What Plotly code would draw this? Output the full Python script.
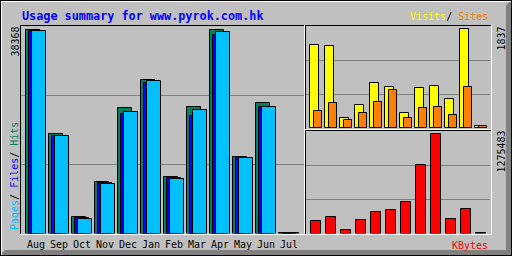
import plotly.graph_objects as go

# ---------------- data ----------------
months = ["Aug", "Sep", "Oct", "Nov", "Dec", "Jan", "Feb", "Mar", "Apr", "May", "Jun", "Jul"]
hits = [38200, 18662, 3016, 9745, 23563, 28841, 10556, 23751, 38368, 14383, 24505, 150]
files = [38134, 18285, 2828, 9425, 22432, 28275, 10368, 22055, 37323, 14138, 23751, 120]
pages = [38077, 18285, 2771, 9368, 22809, 28652, 10311, 23186, 37889, 14138, 23751, 100]
visits = [1543, 1524, 187, 437, 830, 755, 287, 737, 774, 549, 1837, 43]
sites = [324, 474, 156, 287, 493, 699, 193, 381, 399, 249, 755, 40]
kbytes = [159596, 211496, 42818, 172571, 276373, 302324, 406126, 873238, 1275483, 185547, 315300, 5000]

title = "Usage summary for www.pyrok.com.hk"
max_hits_label = "38368"
max_visits_label = "1837"
max_kbytes_label = "1275483"

# ---------------- style ----------------
W, H = 512, 256
GREY = "#C0C0C0"
DARK = "#808080"
C_HITS, C_FILES, C_PAGES = "#00805C", "#0000FF", "#00C0FF"
C_VISITS, C_SITES, C_KB = "#FFFF00", "#FF8000", "#FF0000"
FONT = "DejaVu Sans Mono"


def X(p):
    return p / W


def Y(p):
    return 1 - p / H


idx = list(range(len(months)))
outline = dict(color="black", width=1)

fig = go.Figure()
# main chart (slot 23px, first slot at 26px)
for vals, col, off, wd in [(hits, C_HITS, 0, 14), (files, C_FILES, 3, 14), (pages, C_PAGES, 6, 14)]:
    fig.add_trace(go.Bar(x=idx, y=vals, offset=off / 23, width=wd / 23,
                         marker=dict(color=col, line=outline), xaxis="x", yaxis="y",
                         hoverinfo="skip", showlegend=False))
# visits / sites (slot 15px, first slot at 310px)
for vals, col, off, wd in [(visits, C_VISITS, 0, 9), (sites, C_SITES, 4, 8)]:
    fig.add_trace(go.Bar(x=idx, y=vals, offset=off / 15, width=wd / 15,
                         marker=dict(color=col, line=outline), xaxis="x2", yaxis="y2",
                         hoverinfo="skip", showlegend=False))
fig.add_trace(go.Bar(x=idx, y=kbytes, offset=1 / 15, width=10 / 15,
                     marker=dict(color=C_KB, line=outline), xaxis="x3", yaxis="y3",
                     hoverinfo="skip", showlegend=False))

R1 = max(hits) * 207.5 / 204
R2 = max(visits) * 102 / 98.7
R3 = max(kbytes) * 102.5 / 99.5


def yax(dom, R):
    return dict(domain=dom, range=[0, R], tickvals=[R / 3, 2 * R / 3], showticklabels=False,
                showgrid=True, gridcolor=DARK, gridwidth=1, zeroline=False, ticks="",
                fixedrange=True)


fig.update_layout(
    width=W, height=H, autosize=False,
    margin=dict(l=0, r=0, t=0, b=0, pad=0),
    paper_bgcolor=GREY, plot_bgcolor=GREY,
    barmode="overlay", bargap=0,
    xaxis=dict(domain=[X(21), X(304)], range=[(21 - 26) / 23, (304 - 26) / 23],
               tickvals=[i + 10 / 23 for i in idx], ticktext=months, ticks="",
               tickfont=dict(family=FONT, size=10, color="black"), showgrid=False,
               zeroline=False, fixedrange=True, ticklabelstandoff=3),
    yaxis=yax([Y(233.5), Y(26)], R1),
    xaxis2=dict(domain=[X(306), X(490)], range=[(306 - 310) / 15, (490 - 310) / 15],
                showticklabels=False, showgrid=False, zeroline=False, ticks="", anchor="y2"),
    yaxis2=yax([Y(128), Y(26)], R2) | dict(anchor="x2"),
    xaxis3=dict(domain=[X(306), X(490)], range=[(306 - 310) / 15, (490 - 310) / 15],
                showticklabels=False, showgrid=False, zeroline=False, ticks="", anchor="y3"),
    yaxis3=yax([Y(233.5), Y(131)], R3) | dict(anchor="x3"),
)

shapes = []


def line(x0, y0, x1, y1, color, w=1):
    shapes.append(dict(type="line", xref="paper", yref="paper", x0=X(x0), y0=Y(y0),
                       x1=X(x1), y1=Y(y1), line=dict(color=color, width=w), layer="above"))


# outer bevel frame
shapes.append(dict(type="path", xref="paper", yref="paper", layer="above",
                   path=f"M {X(512)},{Y(0)} L {X(512)},{Y(256)} L {X(0)},{Y(256)} L {X(5)},{Y(250)} "
                        f"L {X(506)},{Y(250)} L {X(506)},{Y(5)} Z",
                   fillcolor=DARK, line=dict(width=0)))
line(0, 0.5, 512, 0.5, "black")
line(0.5, 0, 0.5, 256, "black")
line(0, 255.5, 512, 255.5, "black")
line(511.5, 0, 511.5, 256, "black")
line(1, 1.5, 511, 1.5, "white")
line(1.5, 1, 1.5, 255, "white")

# panel borders (sunken)
for (l, t, r, b) in [(20, 25, 304, 234), (305, 25, 491, 129), (305, 130, 491, 234)]:
    line(l, t + 0.5, r, t + 0.5, "black")
    line(l + 0.5, t, l + 0.5, b, "black")
    line(l, b + 0.5, r + 1, b + 0.5, "white")
    line(r + 0.5, t, r + 0.5, b + 1, "white")
fig.update_layout(shapes=shapes)

ann = []


def text(x, y, s, color, size=10, angle=0, xanchor="center", bold=False):
    ann.append(dict(xref="paper", yref="paper", x=X(x), y=Y(y), text=f"<b>{s}</b>" if bold else s,
                    showarrow=False, textangle=angle, xanchor=xanchor, yanchor="middle",
                    font=dict(family=FONT, size=size, color=color)))


text(20, 15.5, title, C_FILES, size=11.8, xanchor="left", bold=True)
text(490, 16.5, f"<span style='color:{C_VISITS}'>Visits</span>/ <span style='color:{C_SITES}'>Sites</span>",
     "black", xanchor="right")
text(14.5, 42, max_hits_label, "black", angle=-90)
text(500.5, 39, max_visits_label, "black", angle=-90)
text(500.5, 152, max_kbytes_label, "black", angle=-90)
text(490, 245, "KBytes", C_KB, xanchor="right")
text(14.5, 176.5,
     f"<span style='color:{C_PAGES}'>Pages</span>/ <span style='color:{C_FILES}'>Files</span>"
     f"/ <span style='color:{C_HITS}'>Hits</span>", "black", size=10, angle=-90)
fig.update_layout(annotations=ann)

fig.write_html("out.html")
